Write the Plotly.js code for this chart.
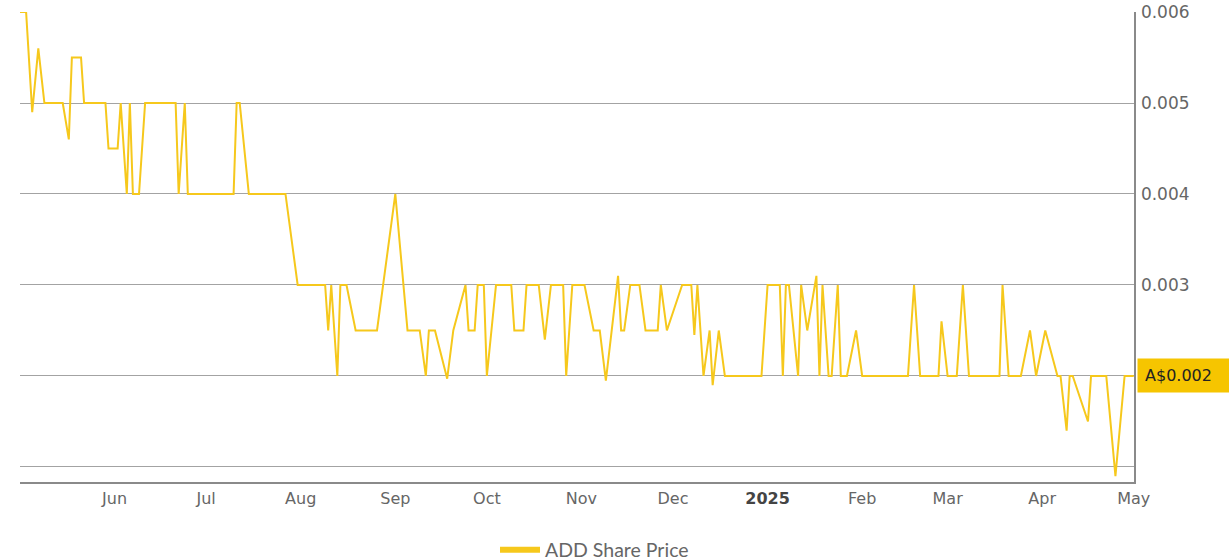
<!DOCTYPE html>
<html>
<head>
<meta charset="utf-8">
<script src="https://cdn.plot.ly/plotly-3.0.1.min.js"></script>
<style>html,body{margin:0;padding:0;background:#fff;}#chart{width:1229px;height:560px;}</style>
</head>
<body>
<div id="chart"></div>
<script>
const dates = [
'2024-05-01','2024-05-03','2024-05-05','2024-05-07','2024-05-09','2024-05-15','2024-05-17','2024-05-18','2024-05-21','2024-05-22',
'2024-05-29','2024-05-30','2024-06-02','2024-06-03','2024-06-05','2024-06-06','2024-06-07','2024-06-09','2024-06-11','2024-06-21',
'2024-06-22','2024-06-24','2024-06-25','2024-07-10','2024-07-11','2024-07-12','2024-07-15','2024-07-27','2024-07-31','2024-08-09',
'2024-08-10','2024-08-11','2024-08-13','2024-08-14','2024-08-16','2024-08-19','2024-08-26','2024-09-01','2024-09-05','2024-09-09',
'2024-09-11','2024-09-12','2024-09-14','2024-09-18','2024-09-20','2024-09-24','2024-09-25','2024-09-27','2024-09-28','2024-09-30',
'2024-10-01','2024-10-04','2024-10-09','2024-10-10','2024-10-13','2024-10-14','2024-10-18','2024-10-20','2024-10-22','2024-10-26',
'2024-10-27','2024-10-29','2024-11-02','2024-11-05','2024-11-07','2024-11-09','2024-11-13','2024-11-14','2024-11-15','2024-11-17',
'2024-11-20','2024-11-22','2024-11-26','2024-11-27','2024-11-29','2024-12-04','2024-12-07','2024-12-08','2024-12-09','2024-12-11',
'2024-12-13','2024-12-14','2024-12-16','2024-12-18','2024-12-30','2025-01-01','2025-01-05','2025-01-06','2025-01-07','2025-01-08',
'2025-01-11','2025-01-12','2025-01-14','2025-01-17','2025-01-18','2025-01-19','2025-01-21','2025-01-22','2025-01-24','2025-01-25',
'2025-01-27','2025-01-30','2025-02-01','2025-02-16','2025-02-18','2025-02-20','2025-02-26','2025-02-27','2025-03-01','2025-03-04',
'2025-03-06','2025-03-08','2025-03-18','2025-03-19','2025-03-21','2025-03-25','2025-03-28','2025-03-30','2025-04-02','2025-04-06',
'2025-04-07','2025-04-09','2025-04-10','2025-04-11','2025-04-16','2025-04-17','2025-04-22','2025-04-25','2025-04-28','2025-05-01'
];
const prices = [
0.006,0.006,0.0049,0.0056,0.005,0.005,0.0046,0.0055,0.0055,0.005,
0.005,0.0045,0.0045,0.005,0.004,0.005,0.004,0.004,0.005,0.005,
0.004,0.005,0.004,0.004,0.005,0.005,0.004,0.004,0.003,0.003,
0.0025,0.003,0.002,0.003,0.003,0.0025,0.0025,0.004,0.0025,0.0025,
0.002,0.0025,0.0025,0.00197,0.0025,0.003,0.0025,0.0025,0.003,0.003,
0.002,0.003,0.003,0.0025,0.0025,0.003,0.003,0.0024,0.003,0.003,
0.002,0.003,0.003,0.0025,0.0025,0.00195,0.0031,0.0025,0.0025,0.003,
0.003,0.0025,0.0025,0.003,0.0025,0.003,0.003,0.00245,0.003,0.002,
0.0025,0.0019,0.0025,0.002,0.002,0.003,0.003,0.002,0.003,0.003,
0.002,0.003,0.0025,0.0031,0.002,0.003,0.002,0.002,0.003,0.002,
0.002,0.0025,0.002,0.002,0.003,0.002,0.002,0.0026,0.002,0.002,
0.003,0.002,0.002,0.003,0.002,0.002,0.0025,0.002,0.0025,0.002,
0.002,0.0014,0.002,0.002,0.0015,0.002,0.002,0.0009,0.002,0.002
];
const seriesName = 'ADD Share Price';
const monthTicks = ['2024-06-01','2024-07-01','2024-08-01','2024-09-01','2024-10-01','2024-11-01','2024-12-01','2025-01-01','2025-02-01','2025-03-01','2025-04-01','2025-05-01'];
const monthLabels = ['Jun','Jul','Aug','Sep','Oct','Nov','Dec','<b><span style="color:#444">2025</span></b>','Feb','Mar','Apr','May'];
const priceTicks = [0.001,0.002,0.003,0.004,0.005,0.006];
const priceLabels = ['','','0.003','0.004','0.005','0.006'];

const lineColor = '#f6c81c';
const lastPrice = prices[prices.length-1];

const traces = [
  {x: dates, y: prices, type: 'scatter', mode: 'lines', line: {color: lineColor, width: 2}, showlegend: false, hoverinfo: 'x+y'},
  {x: [null], y: [null], type: 'scatter', mode: 'lines', name: seriesName, line: {color: lineColor, width: 6}, showlegend: true}
];

const layout = {
  width: 1229, height: 560,
  margin: {l: 20, r: 95, t: 12, b: 78, autoexpand: false},
  paper_bgcolor: '#fff', plot_bgcolor: '#fff',
  font: {family: 'DejaVu Sans, Verdana, sans-serif', color: '#666'},
  xaxis: {
    type: 'date', range: ['2024-05-01', '2025-05-01 02:00'],
    tickvals: monthTicks, ticktext: monthLabels,
    showgrid: false, zeroline: false,
    showline: true, linecolor: '#8a8a8a', linewidth: 1.5,
    ticks: '', ticklabelstandoff: 1,
    tickfont: {size: 16, color: '#666', family: 'DejaVu Sans, Verdana, sans-serif'}
  },
  yaxis: {
    side: 'right', range: [0.000835, 0.006],
    tickvals: priceTicks, ticktext: priceLabels,
    showgrid: true, gridcolor: '#a3a3a3', gridwidth: 1,
    zeroline: false, showline: true, linecolor: '#8a8a8a', linewidth: 1.5,
    ticks: '', ticklabelstandoff: 2,
    tickfont: {size: 17, color: '#666', family: 'DejaVu Sans, Verdana, sans-serif'}
  },
  showlegend: true,
  legend: {
    orientation: 'h', x: 0.4264, xanchor: 'left', y: -0.145, yanchor: 'middle',
    itemwidth: 40,
    font: {family: 'Lato, Open Sans, sans-serif', size: 19.5, color: '#666'},
    bgcolor: 'rgba(0,0,0,0)'
  },
  annotations: [{
    x: 1, xref: 'paper', xanchor: 'left', xshift: 3,
    y: lastPrice, yref: 'y', yanchor: 'middle',
    text: 'A$' + lastPrice.toFixed(3), showarrow: false,
    bgcolor: '#f6c500', borderpad: 7, width: 80, align: 'left',
    font: {family: 'DejaVu Sans, Verdana, sans-serif', size: 16, color: '#222'}
  }]
};

Plotly.newPlot('chart', traces, layout, {displayModeBar: false, staticPlot: true});
</script>
</body>
</html>
